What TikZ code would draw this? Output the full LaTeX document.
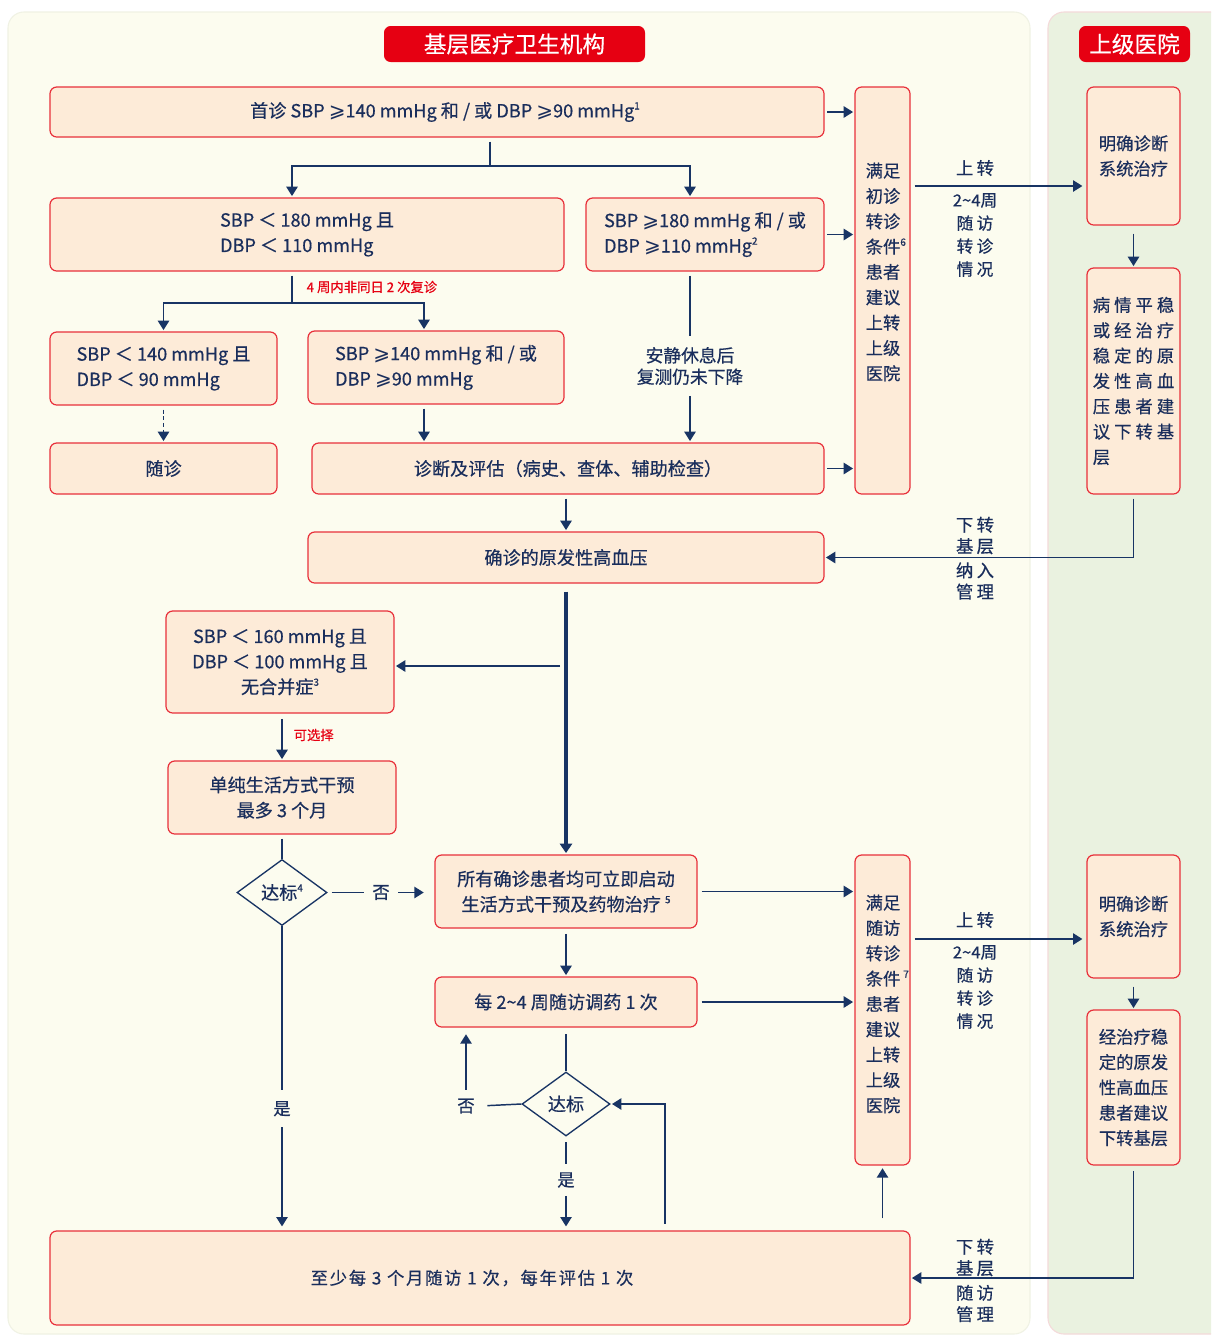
\documentclass[tikz,border=0pt]{standalone}
\usepackage{fontspec}
\setmainfont{Noto Sans CJK SC}[FakeBold=0.5]
\newfontfamily\symf{DejaVu Sans}
\usetikzlibrary{arrows.meta,shapes.geometric,calc}
\definecolor{navy}{RGB}{26,46,92}
\definecolor{linec}{RGB}{24,52,100}
\definecolor{boxfill}{RGB}{253,235,216}
\definecolor{boxred}{RGB}{232,48,58}
\definecolor{ivory}{RGB}{252,252,239}
\definecolor{ivoryb}{RGB}{240,242,228}
\definecolor{greenp}{RGB}{234,242,224}
\definecolor{greenb}{RGB}{244,218,218}
\definecolor{titlered}{RGB}{230,0,18}
\newcommand{\gsl}{{\symf\fontsize{15pt}{14pt}\selectfont ⩾}}
\newcommand{\sps}[1]{\raisebox{0.8ex}{\fontsize{7.5pt}{7.5pt}\selectfont #1}}
\newcommand{\cs}{\hspace{3pt}}
\newcommand{\ls}{\hspace{2.5pt}}
\tikzset{
  box/.style={draw=boxred, fill=boxfill, line width=0.9pt, rounded corners=5pt, text=navy,
    font=\fontsize{13.6pt}{19pt}\selectfont, align=center, inner sep=0pt},
  rbox/.style={box, font=\fontsize{13pt}{19pt}\selectfont},
  ttl/.style={fill=titlered, rounded corners=5pt, text=white, font=\fontsize{17pt}{20pt}\selectfont, inner sep=0pt},
  ln/.style={draw=linec, line width=1.1pt},
  arr/.style={ln, -{Triangle[length=7pt,width=8.5pt]}, shorten >=1pt},
  lbl/.style={text=navy, font=\fontsize{13pt}{16pt}\selectfont, align=center},
  vtxt/.style={text=navy, font=\fontsize{13pt}{19pt}\selectfont, align=center},
  redl/.style={text=titlered, font=\fontsize{10pt}{12pt}\selectfont},
  dia/.style={diamond, draw=linec, line width=1pt, fill=ivory, inner sep=0pt, text=navy,
    font=\fontsize{13.6pt}{16pt}\selectfont},
}
\begin{document}
\begin{tikzpicture}[x=0.75pt,y=-0.75pt]
\useasboundingbox (0,0) rectangle (1211,1336);
\clip (0,0) rectangle (1211,1336);
\fill[white] (0,0) rectangle (1211,1336);
% panels
\draw[fill=ivory, draw=ivoryb, line width=0.8pt, rounded corners=12pt] (8,12) rectangle (1030,1334);
\draw[fill=greenp, draw=greenb, line width=0.8pt, rounded corners=12pt] (1048,12) rectangle (1230,1334);
% titles
\node[ttl, minimum width=195.75pt, minimum height=27pt] (T1) at (514.5,44) {基层医疗卫生机构};
\node[ttl, minimum width=83.25pt, minimum height=27pt] (T2) at (1134.5,44) {上级医院};
% boxes
\node[box, minimum width=580.5pt, minimum height=37.5pt] (B1) at (437,112) {\hspace{12pt}首诊 SBP \gsl140 mmHg 和 / 或 DBP \gsl90 mmHg\sps{1}};
\node[box, align=left, minimum width=385.5pt, minimum height=54.75pt] (B2) at (307,234.5) {SBP ＜ 180 mmHg 且\\DBP ＜ 110 mmHg};
\node[box, align=left, minimum width=178.5pt, minimum height=54.75pt] (B3) at (705,234.5) {SBP \gsl180 mmHg 和 / 或\\DBP \gsl110 mmHg\sps{2}};
\node[box, align=left, minimum width=170.25pt, minimum height=54.75pt] (B4) at (163.5,368.5) {SBP ＜ 140 mmHg 且\\DBP ＜ 90 mmHg};
\node[box, align=left, minimum width=192pt, minimum height=54.75pt] (B5) at (436,367.5) {SBP \gsl140 mmHg 和 / 或\\DBP \gsl90 mmHg};
\node[box, minimum width=170.25pt, minimum height=38.25pt] (B6) at (163.5,468.5) {随诊};
\node[box, minimum width=384pt, minimum height=38.25pt] (B7) at (568,468.5) {诊断及评估（病史、查体、辅助检查）};
\node[box, minimum width=41.25pt, minimum height=305.25pt] (V1) at (882.5,290.5) {};
\node[vtxt] (V1t) at (883,272) {满足\\初诊\\转诊\\条件\rlap{\sps{6}}\\患者\\建议\\上转\\上级\\医院};
\node[rbox, minimum width=69.75pt, minimum height=103.5pt] (R1) at (1133.5,156) {明确诊断\\系统治疗};
\node[rbox, align=left, minimum width=69.75pt, minimum height=169.5pt] (R2) at (1133.5,381) {病\cs 情\cs 平\cs 稳\\或\cs 经\cs 治\cs 疗\\稳\cs 定\cs 的\cs 原\\发\cs 性\cs 高\cs 血\\压\cs 患\cs 者\cs 建\\议\cs 下\cs 转\cs 基\\层};
\node[box, minimum width=387pt, minimum height=38.25pt] (B8) at (566,557.5) {确诊的原发性高血压};
\node[box, minimum width=171pt, minimum height=76.5pt] (B9) at (280,662) {SBP ＜ 160 mmHg 且\\DBP ＜ 100 mmHg 且\\无合并症\sps{3}};
\node[box, minimum width=171pt, minimum height=54.75pt] (B10) at (282,797.5) {单纯生活方式干预\\最多 3 个月};
\node[dia, minimum width=67.5pt, minimum height=49.5pt] (D1) at (282,892.5) {达标\sps{4}};
\node[box, minimum width=196.5pt, minimum height=54.75pt] (B11) at (566,891.5) {所有确诊患者均可立即启动\\生活方式干预及药物治疗 \sps{5}};
\node[box, minimum width=196.5pt, minimum height=37.5pt] (B12) at (566,1002) {每 2\textasciitilde 4 周随访调药 1 次};
\node[dia, minimum width=66pt, minimum height=48pt] (D2) at (566,1104) {达标};
\node[box, minimum width=645pt, minimum height=70.5pt, font=\fontsize{13pt}{19pt}\selectfont\addfontfeature{LetterSpace=10}] (B13) at (480,1278) {\hspace{-12pt}至少每 3 个月随访 1 次，每年评估 1 次};
\node[box, minimum width=41.25pt, minimum height=232.5pt] (V2) at (882.5,1010) {};
\node[vtxt] (V2t) at (883,1004) {满足\\随访\\转诊\\条件\rlap{\,\sps{7}}\\患者\\建议\\上转\\上级\\医院};
\node[rbox, minimum width=69.75pt, minimum height=92.25pt] (R3) at (1133.5,916.5) {明确诊断\\系统治疗};
\node[rbox, minimum width=69.75pt, minimum height=116.25pt] (R4) at (1133.5,1087.5) {经治疗稳\\定的原发\\性高血压\\患者建议\\下转基层};
% connectors top
\coordinate (j1) at (490,166);
\coordinate (k2) at (292,0);
\coordinate (k3) at (690,0);
\draw[ln, shorten <=3pt] (j1|-B1.south) -- (j1);
\draw[arr] (j1) -| (k2|-B2.north);
\draw[arr] (j1) -| (k3|-B3.north);
\draw[arr, shorten <=2pt] (B1.east) -- (B1.east-|V1.west);
\draw[arr, shorten <=2pt] (B3.east) -- (B3.east-|V1.west);
\draw[arr, shorten <=2pt] (B7.east) -- (B7.east-|V1.west);
\coordinate (j2) at (292,303);
\coordinate (k5) at (424,0);
\draw[ln, shorten <=3pt] (j2|-B2.south) -- (j2);
\draw[arr] (j2) -| (B4.north);
\draw[arr] (j2) -| (k5|-B5.north);
\node[redl, anchor=west] (N4w) at (302,287) {4 周内非同日 2 次复诊};
\draw[arr, dash pattern=on 3pt off 2pt, shorten <=3pt] (B4.south) -- (B6.north);
\draw[arr, shorten <=3pt] (k5|-B5.south) -- (k5|-B7.north);
\node[lbl, inner ysep=8pt, font=\fontsize{13.3pt}{16pt}\selectfont] (Q1) at (690,366) {安静休息后\\复测仍未下降};
\draw[ln, shorten <=3pt] (k3|-B3.south) -- (Q1.north);
\draw[arr] (Q1.south) -- (k3|-B7.north);
\draw[arr, shorten <=3pt] (B8.north|-B7.south) -- (B8.north);
% up transfer 1
\coordinate (u1) at (0,186);
\draw[arr, shorten <=3pt, shorten >=3pt] (V1.east|-u1) -- (R1.west|-u1);
\node[lbl] (L1a) at (975,168) {上\ls 转};
\node[lbl, font=\fontsize{12.5pt}{17.25pt}\selectfont] (L1b) at (975,235) {2\textasciitilde 4周\\随\ls 访\\转\ls 诊\\情\ls 况};
\draw[arr, shorten <=6pt] (R1.south) -- (R2.north);
\draw[arr, shorten <=3pt] (R2.south) |- (B8.east);
\node[lbl] (L2a) at (975,535.5) {下\ls 转\\基\ls 层};
\node[lbl] (L2b) at (975,581) {纳\ls 入\\管\ls 理};
% middle
\draw[arr, line width=2.4pt, shorten <=6pt, -{Triangle[length=7pt,width=9pt]}] (B8.south) -- (B11.north);
\coordinate (b9c) at (560,666);
\draw[arr] (b9c) -- (b9c-|B9.east);
\draw[arr, shorten <=4pt] (B10.north|-B9.south) -- (B10.north);
\node[redl, anchor=west] (N3s) at (289,735) {可选择};
\draw[ln, shorten <=3pt] (B10.south) -- (D1.north);
\draw[arr, shorten <=3pt, shorten >=8pt] (D1.east) -- node[lbl, fill=ivory, inner xsep=6pt] (No1) {否} (D1.east-|B11.west);
\draw[arr, shorten >=3pt] (D1.south) -- node[lbl, fill=ivory, pos=0.6, inner ysep=8pt] (Yes1) {是} (D1.south|-B13.north);
\draw[arr, shorten <=4pt] (B11.south) -- (B12.north);
\draw[arr, shorten <=3pt] (B11.east) -- (B11.east-|V2.west);
\draw[arr, shorten <=3pt] (B12.east) -- (B12.east-|V2.west);
\draw[ln, shorten <=5pt] (B12.south) -- (D2.north);
\node[lbl] (No2) at (466,1106) {否};
\draw[ln, shorten >=6pt] (D2.west) -- (No2.east);
\draw[arr, shorten <=3pt, shorten >=5pt] (No2.north) -- (No2.north|-B12.south);
\node[lbl, inner ysep=6pt] (Yes2) at (566,1180) {是};
\draw[ln, shorten <=4pt] (D2.south) -- (Yes2.north);
\draw[arr, shorten >=3pt] (Yes2.south) -- (Yes2.south|-B13.north);
\coordinate (c3) at (665,0);
\draw[arr, shorten <=5pt] (c3|-B13.north) |- (D2.east);
\draw[arr, shorten <=9pt, shorten >=2pt] (V2.south|-B13.north) -- (V2.south);
% up transfer 2
\coordinate (u2) at (0,939);
\draw[arr, shorten <=3pt, shorten >=3pt] (V2.east|-u2) -- (R3.west|-u2);
\node[lbl] (L3a) at (975,920) {上\ls 转};
\node[lbl, font=\fontsize{12.5pt}{17.25pt}\selectfont] (L3b) at (975,987) {2\textasciitilde 4周\\随\ls 访\\转\ls 诊\\情\ls 况};
\draw[arr, shorten <=6pt] (R3.south) -- (R4.north);
\draw[arr, shorten <=4pt] (R4.south) |- (B13.east);
\node[lbl] (L4a) at (975,1257.5) {下\ls 转\\基\ls 层};
\node[lbl] (L4b) at (975,1303.5) {随\ls 访\\管\ls 理};
\end{tikzpicture}
\end{document}
